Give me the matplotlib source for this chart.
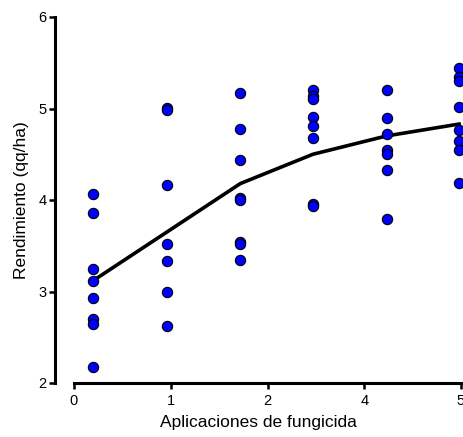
import matplotlib
matplotlib.use('Agg')
import matplotlib.pyplot as plt

plt.rcParams['font.family'] = ['Liberation Sans', 'DejaVu Sans']

# posiciones de los grupos sobre el eje (en unidades de marca) y sus rendimientos
grupos_x = [0.20, 0.96, 1.72, 2.47, 3.23, 3.98]
rend = [
    [4.07, 3.86, 3.25, 3.12, 2.93, 2.70, 2.65, 2.17],
    [5.01, 4.98, 4.16, 3.52, 3.33, 2.99, 2.62],
    [5.17, 4.78, 4.44, 4.02, 4.00, 3.54, 3.52, 3.34],
    [5.20, 5.14, 5.10, 4.91, 4.81, 4.68, 3.96, 3.93],
    [5.20, 4.90, 4.72, 4.55, 4.50, 4.33, 3.79],
    [5.44, 5.34, 5.30, 5.02, 4.77, 4.64, 4.55, 4.19],
]
curva = [3.12, 3.65, 4.18, 4.50, 4.70, 4.83]

xticks_pos = [0, 1, 2, 3, 4]
xticks_lab = ['0', '1', '2', '4', '5']
yticks = [2, 3, 4, 5, 6]

fig = plt.figure(figsize=(4.63, 4.37), dpi=100)
ax = fig.add_axes([55 / 463, 1 - 383 / 437, 406 / 463, 366 / 437])

ax.plot(grupos_x, curva, color='black', lw=2.6, zorder=2, clip_on=False)
for x, vals in zip(grupos_x, rend):
    ax.scatter([x] * len(vals), vals, s=55, color='#0000ff', edgecolor='black',
               linewidth=0.8, zorder=3, clip_on=False)

ax.set_xlim(-19 / 96.75, 4)
ax.set_ylim(2, 6)
ax.set_xticks(xticks_pos)
ax.set_xticklabels(xticks_lab)
ax.set_yticks(yticks)

for s in ['top', 'right']:
    ax.spines[s].set_visible(False)
for s in ['left', 'bottom']:
    ax.spines[s].set_linewidth(2.2)
ax.spines['bottom'].set_bounds(0, 4)
ax.tick_params(width=1.8, length=4, labelsize=10.5, pad=2)
ax.tick_params(axis='x', pad=4)

ax.set_xlabel('Aplicaciones de fungicida', fontsize=12.5, labelpad=5)
ax.set_ylabel('Rendimiento (qq/ha)', fontsize=12.5, labelpad=7)

fig.savefig('out.png', dpi=100)
